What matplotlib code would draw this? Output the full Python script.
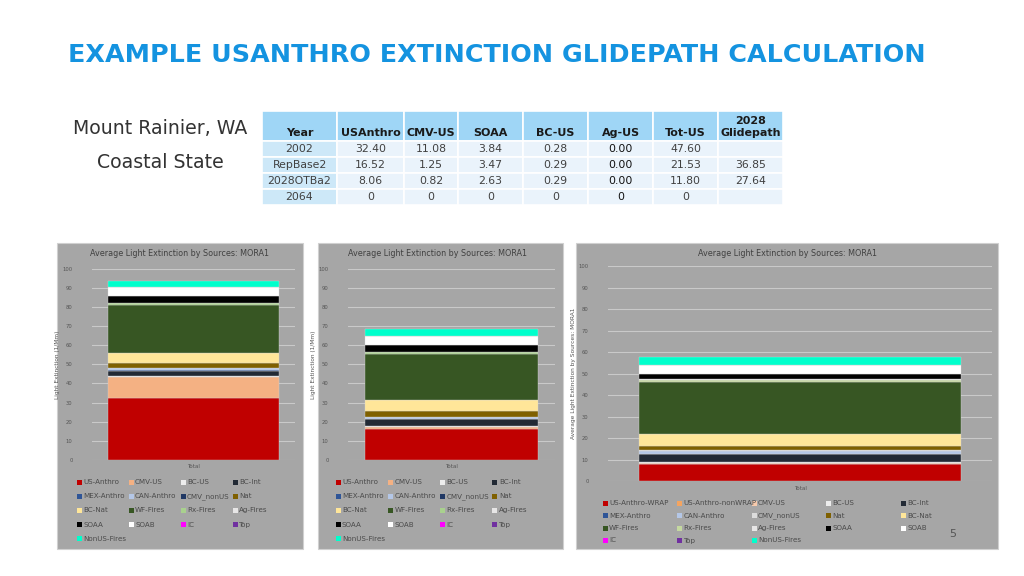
"""Slide: USAnthro extinction glidepath example for Mount Rainier (MORA1)."""
import matplotlib
matplotlib.use("Agg")
import matplotlib.pyplot as plt
from matplotlib.patches import Rectangle

W, H = 1024, 576

# ---- table data ----
TAB_COLS = ["Year", "USAnthro", "CMV-US", "SOAA", "BC-US", "Ag-US", "Tot-US", "2028\nGlidepath"]
TAB_YEARS = ["2002", "RepBase2", "2028OTBa2", "2064"]
TAB_USANTHRO = ["32.40", "16.52", "8.06", "0"]
TAB_CMV = ["11.08", "1.25", "0.82", "0"]
TAB_SOAA = ["3.84", "3.47", "2.63", "0"]
TAB_BCUS = ["0.28", "0.29", "0.29", "0"]
TAB_AGUS = ["0.00", "0.00", "0.00", "0"]
TAB_TOT = ["47.60", "21.53", "11.80", "0"]
TAB_GLIDE = ["", "36.85", "27.64", ""]

# ---- stacked bar data (1/Mm) ----
SRC_A = ["US-Anthro", "CMV-US", "BC-US", "BC-Int", "MEX-Anthro", "CAN-Anthro", "CMV_nonUS", "Nat",
         "BC-Nat", "WF-Fires", "Rx-Fires", "Ag-Fires", "SOAA", "SOAB", "IC", "Top", "NonUS-Fires"]
COL_A = ["#c00000", "#f4b183", "#ededed", "#222a35", "#2f5597", "#b4c7e7", "#203864", "#7f6000",
         "#ffe699", "#375623", "#a9d18e", "#e7e6e6", "#000000", "#ffffff", "#ff00ff", "#7030a0", "#00ffcc"]
VAL_2002 = [32.4, 11.08, 0.28, 3.0, 0.3, 0.8, 0.2, 2.4, 5.6, 25.0, 0.8, 0.3, 3.5, 4.7, 0.05, 0.05, 3.3]
VAL_REPBASE = [16.2, 1.25, 0.29, 3.6, 0.2, 0.9, 0.2, 2.9, 5.7, 24.3, 0.8, 0.3, 3.6, 4.6, 0.05, 0.05, 3.3]

SRC_B = ["US-Anthro-WRAP", "US-Anthro-nonWRAP", "CMV-US", "BC-US", "BC-Int", "MEX-Anthro", "CAN-Anthro",
         "CMV_nonUS", "Nat", "BC-Nat", "WF-Fires", "Rx-Fires", "Ag-Fires", "SOAA", "SOAB", "IC", "Top",
         "NonUS-Fires"]
COL_B = ["#c00000", "#f4a460", "#f8cbad", "#ededed", "#222a35", "#2f5597", "#b4c7e7", "#dcdcdc", "#7f6000",
         "#ffe699", "#375623", "#c5d9a0", "#e7e6e6", "#000000", "#ffffff", "#ff00ff", "#7030a0", "#00ffcc"]
VAL_2028 = [8.06, 0.05, 0.6, 0.29, 3.6, 0.2, 1.2, 0.4, 2.1, 5.6, 24.0, 0.8, 0.4, 2.63, 4.2, 0.05, 0.05, 3.4]

YTICKS = [0, 10, 20, 30, 40, 50, 60, 70, 80, 90, 100]
PANEL = "#a6a6a6"
TXT = "#404040"
CHART_TITLE = "Average Light Extinction by Sources: MORA1"


def fx(x):
    return x / W


def fy(y):
    return 1 - y / H


fig = plt.figure(figsize=(10.24, 5.76), dpi=100)
fig.patch.set_facecolor("white")

fig.text(fx(68), fy(55), "EXAMPLE USANTHRO EXTINCTION GLIDEPATH CALCULATION", fontsize=18.3,
         fontweight="bold", color="#1493e0", ha="left", va="center", family="DejaVu Sans")
fig.text(fx(160), fy(128), "Mount Rainier, WA", fontsize=13.6, color="#333333", ha="center", va="center")
fig.text(fx(160), fy(163), "Coastal State", fontsize=13.6, color="#333333", ha="center", va="center")

# ---- table ----
edges = [262, 337, 404, 458, 523, 588, 653, 718, 783]
rows_y = [111, 141, 157, 173, 189, 205]
cols_data = [TAB_YEARS, TAB_USANTHRO, TAB_CMV, TAB_SOAA, TAB_BCUS, TAB_AGUS, TAB_TOT, TAB_GLIDE]
for c in range(len(TAB_COLS)):
    x0, x1 = edges[c], edges[c + 1]
    fig.patches.append(Rectangle((fx(x0), fy(rows_y[1])), fx(x1 - x0), (rows_y[1] - rows_y[0]) / H,
                                 transform=fig.transFigure, facecolor="#9fd6f6", edgecolor="white", lw=1.2,
                                 zorder=-2))
    fig.text(fx((x0 + x1) / 2), fy(138), TAB_COLS[c], fontsize=8, fontweight="bold", color="#1a1a1a",
             ha="center", va="bottom", linespacing=1.2)
    for r in range(4):
        y0, y1 = rows_y[r + 1], rows_y[r + 2]
        fc = "#cde8f8" if c == 0 else "#eaf3fb"
        fig.patches.append(Rectangle((fx(x0), fy(y1)), fx(x1 - x0), (y1 - y0) / H,
                                     transform=fig.transFigure, facecolor=fc, edgecolor="white", lw=1.2,
                                     zorder=-2))
        fig.text(fx((x0 + x1) / 2), fy((y0 + y1) / 2), cols_data[c][r], fontsize=7.8,
                 color="#111111" if c == 5 else "#404040", ha="center", va="center")


def chart(panel, ax_rect, vals, cols, names, ylabel, title_xy, total_y, leg):
    px0, py0, px1, py1 = panel
    fig.patches.append(Rectangle((fx(px0), fy(py1)), fx(px1 - px0), (py1 - py0) / H,
                                 transform=fig.transFigure, facecolor=PANEL, edgecolor="#d0d0d0", lw=0.8,
                                 zorder=-2))
    ax0, ay_top, ax1, ay_bot = ax_rect
    ax = fig.add_axes([fx(ax0), fy(ay_bot), fx(ax1 - ax0), (ay_bot - ay_top) / H])
    ax.set_facecolor("none")
    bottom = 0
    for v, c in zip(vals, cols):
        ax.bar(0, v, width=0.84, bottom=bottom, color=c, edgecolor="#d8d8d8", lw=0.25)
        bottom += v
    ax.set_xlim(-0.5, 0.5)
    ax.set_ylim(0, 100)
    ax.set_yticks(YTICKS)
    ax.set_xticks([])
    ax.tick_params(axis="y", length=0, labelsize=3.8, labelcolor="#555555", pad=14)
    ax.grid(axis="y", color="#c9c9c9", lw=0.8)
    ax.set_axisbelow(True)
    for s in ax.spines.values():
        s.set_visible(False)
    ax.set_ylabel(ylabel, fontsize=4.2, color="#555555", labelpad=2)
    fig.text(fx(title_xy[0]), fy(title_xy[1]), CHART_TITLE, fontsize=5.8, color=TXT,
             ha="center", va="center")
    fig.text(fx((ax0 + ax1) / 2), fy(total_y), "Total", fontsize=4, color="#555555", ha="center", va="center")
    lx, ly, dx, dy, ncol = leg
    for i, (n, c) in enumerate(zip(names, cols)):
        x = lx + (i % ncol) * dx
        y = ly + (i // ncol) * dy
        fig.patches.append(Rectangle((fx(x - 2.5), fy(y + 2.5)), fx(5), 5 / H, transform=fig.transFigure,
                                     facecolor=c, edgecolor="none"))
        fig.text(fx(x + 4), fy(y), n, fontsize=5.1, color="#4a4a4a", ha="left", va="center")
    return ax


chart((57, 243, 303, 549), (92, 268.7, 295, 460), VAL_2002, COL_A, SRC_A,
      "Light Extinction (1/Mm)", (180, 254), 467, (79, 482, 52, 14.2, 4))
chart((318, 243, 563, 549), (348, 268.7, 555, 460), VAL_REPBASE, COL_A, SRC_A,
      "Light Extinction (1/Mm)", (438, 254), 467, (338, 482, 52.3, 14.2, 4))
chart((576, 243, 998, 549), (608, 266, 992, 481.3), VAL_2028, COL_B, SRC_B,
      "Average Light Extinction by Sources: MORA1", (787, 253), 489, (605, 503, 74.5, 12.5, 5))

fig.text(fx(953), fy(534), "5", fontsize=8, color="#555555", ha="center", va="center")

fig.savefig("out.png", dpi=100)
